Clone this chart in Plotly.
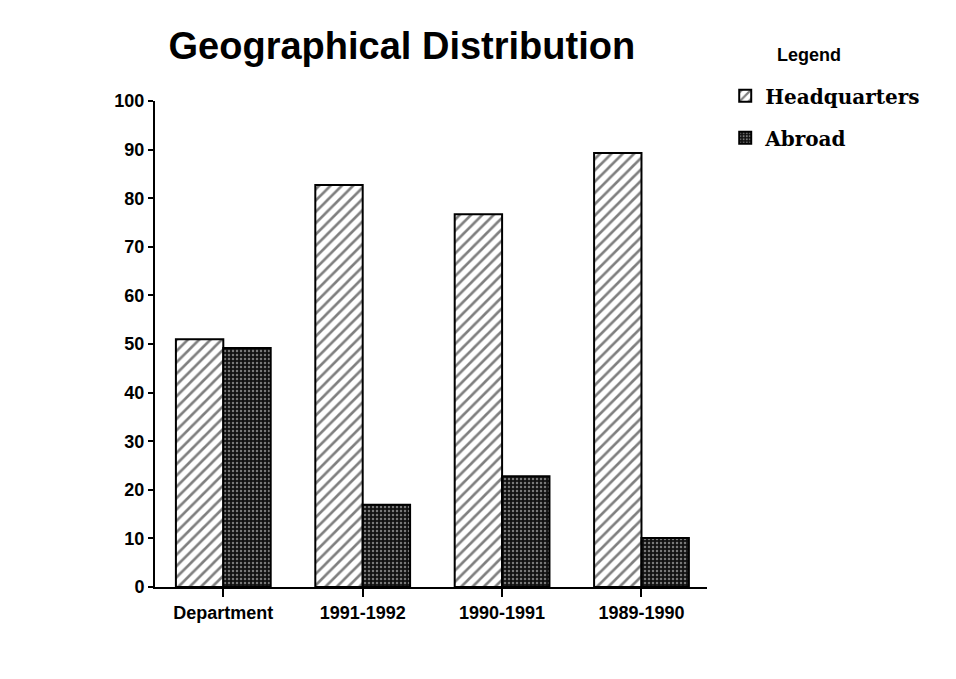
import plotly.graph_objects as go

# 类别与数值（从图中读取，单位 %）
categories = ["Department", "1991-1992", "1990-1991", "1989-1990"]
headquarters = [51, 82.7, 76.7, 89.3]
abroad = [49.2, 16.9, 22.8, 10.1]
y_ticks = list(range(0, 101, 10))

fig = go.Figure()
fig.add_trace(
    go.Bar(
        x=categories, y=headquarters, name="Headquarters", legendgroup="hq",
        marker=dict(
            color="white",
            line=dict(color="black", width=2),
            pattern=dict(shape="/", fgcolor="black", bgcolor="white", size=8, solidity=0.33),
        ),
    )
)
fig.add_trace(
    go.Bar(
        x=categories, y=abroad, name="Abroad", legendgroup="ab",
        marker=dict(
            color="#111111",
            line=dict(color="black", width=2),
            pattern=dict(shape=".", fgcolor="#dddddd", bgcolor="#111111", size=4, solidity=0.3),
        ),
    )
)

# 图例标题用注释代替，便于控制位置
fig.add_annotation(
    text="Legend", xref="paper", yref="paper", x=1.185, y=1.095,
    xanchor="center", yanchor="middle", showarrow=False,
    font=dict(family="Liberation Sans, Arial", size=18, color="black", weight="bold"),
)

fig.update_layout(
    width=956, height=679,
    paper_bgcolor="white", plot_bgcolor="white",
    margin=dict(l=147, r=257, t=93, b=100),
    barmode="group", bargap=0.32, bargroupgap=0,
    title=dict(
        text="Geographical Distribution",
        x=0.412, xanchor="center", y=0.945, yanchor="middle",
        font=dict(family="Liberation Sans, Arial", size=38, color="black", weight="bold"),
    ),
    legend=dict(
        x=1.033, xanchor="left", y=1.051, yanchor="top",
        font=dict(family="DejaVu Serif", size=20, color="black", weight="bold"),
        bgcolor="rgba(0,0,0,0)", traceorder="grouped", tracegroupgap=13,
    ),
    xaxis=dict(
        range=[-0.49, 3.47], showline=True, linecolor="black", linewidth=2,
        ticks="outside", ticklen=8, tickwidth=2, tickcolor="black",
        showgrid=False, zeroline=False,
        tickfont=dict(family="Liberation Sans, Arial", size=18, color="black", weight="bold"),
    ),
    yaxis=dict(
        range=[0, 100], tickvals=y_ticks, showline=True, linecolor="black", linewidth=2,
        ticks="outside", ticklen=5, tickwidth=2, tickcolor="black",
        showgrid=False, zeroline=False,
        tickfont=dict(family="Liberation Sans, Arial", size=18, color="black", weight="bold"),
    ),
)

fig.write_html("out.html")
